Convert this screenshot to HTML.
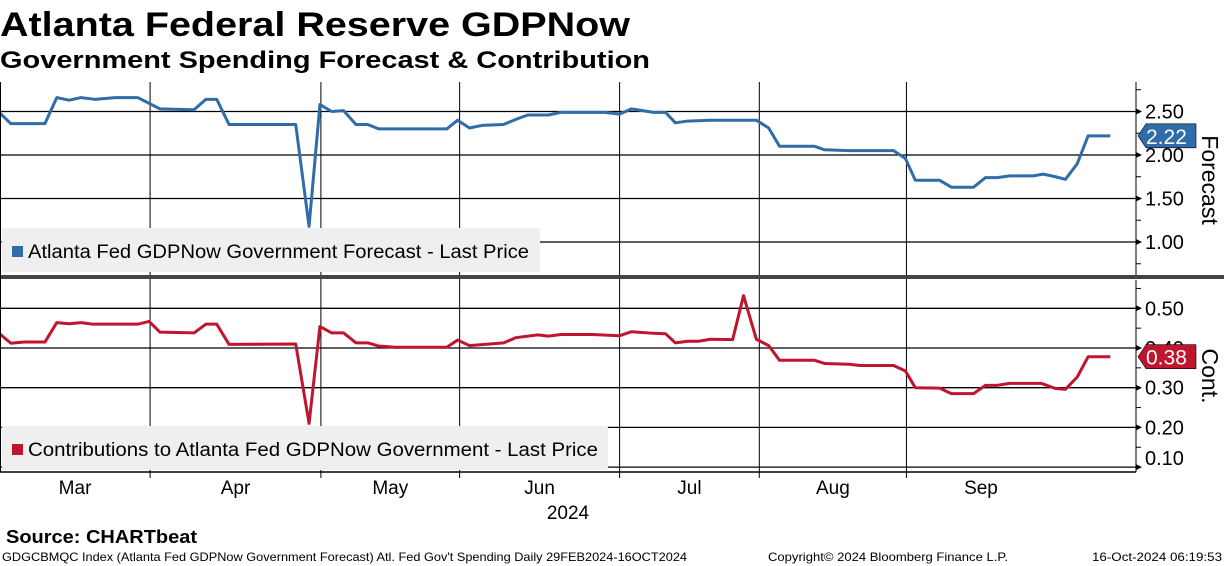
<!DOCTYPE html>
<html><head><meta charset="utf-8"><style>
body{margin:0;background:#fff;width:1224px;height:566px;overflow:hidden;font-family:"Liberation Sans",sans-serif}
svg{display:block}
</style></head><body>
<svg width="1224" height="566">
<text x="0" y="36" font-size="34" font-weight="bold" textLength="630" lengthAdjust="spacingAndGlyphs">Atlanta Federal Reserve GDPNow</text>
<text x="0" y="68" font-size="24" font-weight="bold" textLength="650" lengthAdjust="spacingAndGlyphs">Government Spending Forecast &amp; Contribution</text>
<g id="grid"></g>
<g id="top"></g>
<g id="bot"></g>
<rect x="0" y="275" width="1224" height="4" fill="#444"/>
<line x1="0" y1="82" x2="0" y2="472" stroke="#000" stroke-width="2"/>
<line x1="0" y1="472" x2="1136" y2="472" stroke="#000" stroke-width="1.5"/>
<g id="xlab" font-size="19"></g>
<text x="568" y="519" font-size="19" text-anchor="middle">2024</text>
<text x="6" y="543" font-size="18" font-weight="bold" textLength="191" lengthAdjust="spacingAndGlyphs">Source: CHARTbeat</text>
<text x="2" y="561" font-size="12" textLength="685" lengthAdjust="spacingAndGlyphs">GDGCBMQC Index (Atlanta Fed GDPNow Government Forecast) Atl. Fed Gov't Spending  Daily 29FEB2024-16OCT2024</text>
<text x="768" y="561" font-size="12" textLength="240" lengthAdjust="spacingAndGlyphs">Copyright© 2024 Bloomberg Finance L.P.</text>
<text x="1222" y="561" font-size="12" text-anchor="end" textLength="130" lengthAdjust="spacingAndGlyphs">16-Oct-2024 06:19:53</text>
</svg>
<script>
const NS='http://www.w3.org/2000/svg';
const monthLabels=['Mar','Apr','May','Jun','Jul','Aug','Sep'];
const monthBounds=[0,30.4,65,93.1,125.5,153.8,183.6,213.8];
const topDays=[0,2.2,9.1,11.5,14,16.4,19.2,23.3,27.9,32.4,39.3,41.7,43.9,46.4,59.9,62.6,64.8,67.2,69.6,72.1,74.5,76.7,90.5,92.7,95.1,97.6,102,104.5,106.9,111.1,113.6,122.5,125.5,127.9,132.4,134.8,136.8,139.3,143.9,153.2,155.7,157.9,165,167,171.9,181,183.4,185.4,190.3,192.7,197.2,199.6,202,204.5,209.3,211.3,213.8,215.8,218.2,220.4,224.9];
const topVals=[2.48,2.36,2.36,2.66,2.63,2.66,2.64,2.66,2.66,2.53,2.52,2.64,2.64,2.35,2.35,1.18,2.58,2.50,2.51,2.35,2.35,2.30,2.30,2.40,2.31,2.34,2.35,2.41,2.46,2.46,2.49,2.49,2.47,2.53,2.49,2.49,2.37,2.39,2.40,2.40,2.31,2.10,2.10,2.06,2.05,2.05,1.96,1.71,1.71,1.63,1.63,1.74,1.74,1.76,1.76,1.78,1.75,1.72,1.90,2.22,2.22];
const botDays=[0,2.2,4.9,9.1,11.5,14,16.4,18.8,27.9,30.2,32.4,39.3,41.7,43.9,46.4,59.9,62.6,64.8,67.2,69.6,72.1,74.5,76.7,80,90.5,92.7,95.1,102,104.5,108.9,111.1,113.6,120,125.5,127.9,132.4,134.8,136.8,139.3,141.5,143.9,148.4,150.6,153.2,155.7,157.9,165,167,171.9,174.3,181,183.4,185.4,190.3,192.7,197.2,199.6,202,204.5,210.9,213.8,215.8,218.2,220.4,224.9];
const botVals=[.435,.412,.415,.415,.464,.461,.464,.460,.460,.467,.440,.438,.460,.460,.409,.410,.210,.454,.438,.438,.413,.413,.405,.402,.402,.420,.406,.413,.426,.433,.430,.434,.434,.431,.441,.437,.436,.413,.417,.417,.422,.421,.532,.422,.406,.369,.369,.361,.359,.356,.356,.342,.300,.299,.285,.285,.306,.306,.311,.311,.298,.296,.327,.378,.378];
const topTicks=[1.00,1.50,2.00,2.50];
const botTicks=[0.10,0.20,0.30,0.40,0.50];
const X0=0,X1=1136,DMAX=230.1;
const x=d=>X0+d/DMAX*(X1-X0);
const yT=v=>111.5+(2.5-v)*87;
const yB=v=>308.3+(0.5-v)*397;
function el(t,a,p){const e=document.createElementNS(NS,t);for(const k in a)e.setAttribute(k,a[k]);p.appendChild(e);return e;}
const grid=document.getElementById('grid'),top_=document.getElementById('top'),bot=document.getElementById('bot'),xl=document.getElementById('xlab');
monthBounds.slice(1,-1).forEach(d=>{
  const l=el('line',{x1:x(d),y1:82,x2:x(d),y2:478,stroke:'#000','stroke-width':1},grid);
  
  
});
monthLabels.forEach((m,i)=>{
  const t=el('text',{x:x((monthBounds[i]+monthBounds[i+1])/2),y:494,'text-anchor':'middle'},xl);t.textContent=m;
  
  
});
el('line',{x1:1136,y1:82,x2:1136,y2:275,stroke:'#000','stroke-width':1},grid);
el('line',{x1:1136,y1:280,x2:1136,y2:472,stroke:'#000','stroke-width':1},grid);
function axis(ticks,yf,g,lo,hi){
  ticks.forEach(v=>{
    const y=yf(v);
    const gl=el('line',{x1:0,y1:y,x2:1136,y2:y,stroke:'#000','stroke-width':1.3},g);
    
    
    el('path',{d:`M1136 ${y-3}L1142 ${y}L1136 ${y+3}Z`,fill:'#000'},g);
    const ty=Math.min(y+7,465);
    const t=el('text',{x:1145,y:ty,'font-size':20},g);t.textContent=v.toFixed(2);
    
    
  });
  const step=(ticks[1]-ticks[0])/2;
  for(let v=ticks[0]-step;v<=ticks[ticks.length-1]+step+1e-9;v+=2*step){const y=yf(v);if(y>lo&&y<hi)el('line',{x1:1136,y1:y,x2:1141,y2:y,stroke:'#000'},g);}
}
axis(topTicks,yT,top_,83,274);
axis(botTicks,yB,bot,281,471);
function series(days,vals,yf,g,col,name){
  const p=el('polyline',{points:days.map((d,i)=>x(d)+','+yf(vals[i])).join(' '),fill:'none',stroke:col,'stroke-width':3,'stroke-linejoin':'round'},g);
  
  
}
series(topDays,topVals,yT,top_,'#2f6ca8','forecast-line');
series(botDays,botVals,yB,bot,'#c0152f','contribution-line');
function legend(g,y,w,tw,col,txt,name){
  const r=el('rect',{x:2,y:y,width:w,height:44,fill:'#efefef',rx:2},g);
  
  
  el('rect',{x:12,y:y+18,width:11,height:11,fill:col},g);
  const t=el('text',{x:28,y:y+30,'font-size':19,textLength:tw,lengthAdjust:'spacingAndGlyphs'},g);t.textContent=txt;
}
legend(top_,228,538,501,'#2f6ca8','Atlanta Fed GDPNow Government Forecast - Last Price','forecast-legend');
legend(bot,426,606,570,'#c0152f','Contributions to Atlanta Fed GDPNow Government - Last Price','contribution-legend');
function tag(g,v,yf,col,name){
  const y=yf(v);
  const p=el('path',{d:`M1138 ${y}L1146 ${y-12}H1196V${y+12}H1146Z`,fill:col,stroke:'#000','stroke-width':0.6},g);
  
  
  const t=el('text',{x:1146,y:y+8,'font-size':21,fill:'#fff'},g);t.textContent=v.toFixed(2);
}
tag(top_,topVals[topVals.length-1],yT,'#2f6ca8','forecast-last-value');
tag(bot,botVals[botVals.length-1],yB,'#c0152f','contribution-last-value');
function ylab(g,txt,cy,name){
  const t=el('text',{x:0,y:0,'font-size':23,'text-anchor':'middle',transform:`translate(1202 ${cy}) rotate(90)`},g);t.textContent=txt;
  
  
}
ylab(top_,'Forecast',180,'forecast-axis-title');
ylab(bot,'Cont.',376,'contribution-axis-title');
</script>
</body></html>
